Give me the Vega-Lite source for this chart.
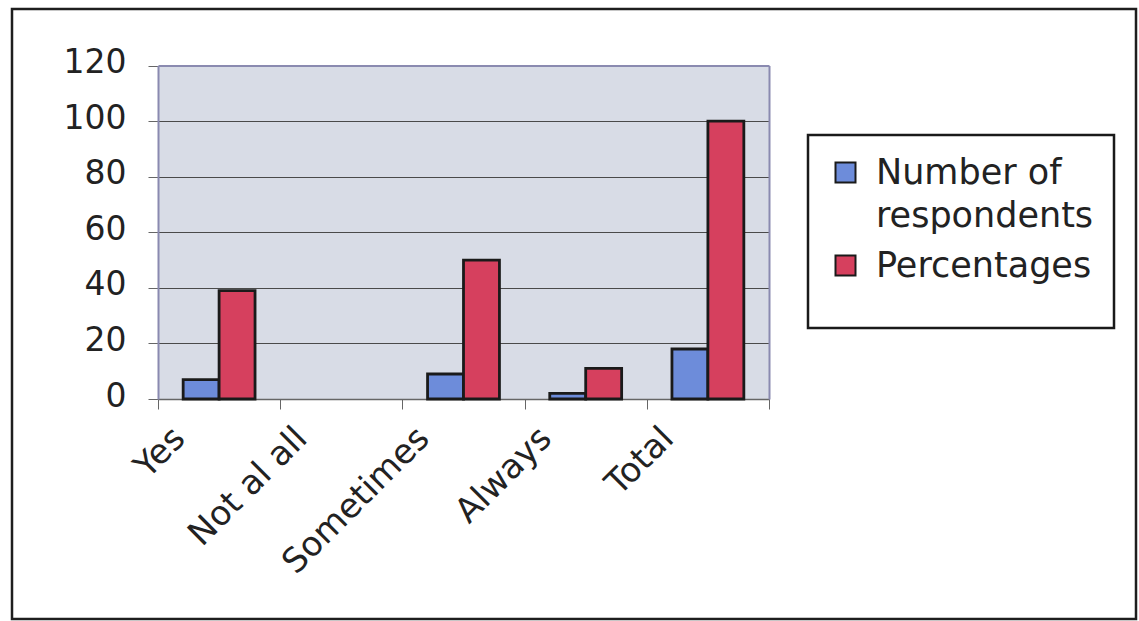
{
  "$schema": "https://vega.github.io/schema/vega-lite/v6.json",
  "width": 1124,
  "height": 610,
  "autosize": {"type": "none"},
  "padding": {"left": 12, "top": 9, "right": 3, "bottom": 2},
  "background": "white",
  "datasets": {
    "answers": [
      {"answer": "Yes", "series": "Number of respondents", "value": 7},
      {"answer": "Yes", "series": "Percentages", "value": 39},
      {"answer": "Not al all", "series": "Number of respondents", "value": 0},
      {"answer": "Not al all", "series": "Percentages", "value": 0},
      {"answer": "Sometimes", "series": "Number of respondents", "value": 9},
      {"answer": "Sometimes", "series": "Percentages", "value": 50},
      {"answer": "Always", "series": "Number of respondents", "value": 2},
      {"answer": "Always", "series": "Percentages", "value": 11},
      {"answer": "Total", "series": "Number of respondents", "value": 18},
      {"answer": "Total", "series": "Percentages", "value": 100}
    ]
  },
  "data": {"name": "answers"},
  "config": {
    "font": "DejaVu Sans",
    "view": {"stroke": "#1e1e1e", "strokeWidth": 2.5, "fill": "white"},
    "axis": {"title": null},
    "legend": {"strokeWidth": 2.5}
  },
  "resolve": {"axis": {"x": "independent", "y": "independent"}},
  "layer": [
    {
      "mark": {"type": "bar", "stroke": "#1a1a1a", "strokeWidth": 2.8},
      "encoding": {
        "x": {
          "field": "answer",
          "type": "nominal",
          "sort": ["Yes", "Not al all", "Sometimes", "Always", "Total"],
          "scale": {"range": [146, 757], "paddingInner": 0, "paddingOuter": 0},
          "axis": {
            "orient": "bottom",
            "offset": -220,
            "tickBand": "extent",
            "grid": false,
            "domainColor": "#666",
            "domainWidth": 1.5,
            "tickColor": "#666",
            "tickSize": 10,
            "labelAngle": -45,
            "labelAlign": "right",
            "labelBaseline": "top",
            "labelOffset": -52,
            "labelPadding": 12,
            "labelFontSize": 34,
            "labelLimit": 400,
            "labelColor": "#222"
          }
        },
        "xOffset": {
          "field": "series",
          "type": "nominal",
          "sort": ["Number of respondents", "Percentages"],
          "scale": {"paddingInner": 0, "paddingOuter": 0.7}
        },
        "y": {
          "field": "value",
          "type": "quantitative",
          "scale": {"domain": [0, 120], "range": [390, 56.5], "nice": false},
          "axis": {
            "orient": "left",
            "offset": -146,
            "values": [0, 20, 40, 60, 80, 100, 120],
            "grid": true,
            "gridColor": "#4a4a4a",
            "gridWidth": 1,
            "domainColor": "#8a8ab0",
            "domainWidth": 2,
            "tickSize": 10,
            "tickColor": "#666",
            "labelPadding": 22,
            "labelFontSize": 33,
            "labelColor": "#222",
            "labelOffset": -3
          }
        },
        "strokeOpacity": {"condition": {"test": "datum.value == 0", "value": 0}, "value": 1},
        "color": {
          "field": "series",
          "type": "nominal",
          "sort": ["Number of respondents", "Percentages"],
          "scale": {"domain": ["Number of respondents", "Percentages"], "range": ["#6d8cda", "#d6405e"]},
          "legend": {
            "orient": "none",
            "legendX": 796,
            "legendY": 126,
            "title": "\u00a0",
            "titleOrient": "bottom",
            "titleFontSize": 24,
            "titlePadding": 0,
            "labelFontSize": 35,
            "labelColor": "#222",
            "labelLimit": 400,
            "labelOffset": 13,
            "labelExpr": "datum.label == 'Number of respondents' ? ['Number of', 'respondents'] : datum.label",
            "symbolType": "square",
            "symbolSize": 400,
            "symbolStrokeColor": "#1a1a1a",
            "symbolStrokeWidth": 2,
            "symbolOpacity": 1,
            "strokeColor": "#1a1a1a",
            "fillColor": "white",
            "padding": 20,
            "rowPadding": 14,
            "encode": {
              "labels": {"update": {"lineHeight": {"value": 43}}}
            }
          }
        }
      }
    },
    {
      "mark": {"type": "bar", "opacity": 0},
      "encoding": {
        "x": {
          "field": "answer",
          "type": "nominal",
          "sort": ["Yes", "Not al all", "Sometimes", "Always", "Total"],
          "axis": {
            "orient": "top",
            "offset": -56.5,
            "grid": true,
            "gridWidth": 123,
            "gridColor": "#d8dce6",
            "gridCap": "butt",
            "ticks": false,
            "labels": false,
            "domainColor": "#8a8ab0",
            "domainWidth": 2
          }
        },
        "y": {
          "field": "value",
          "type": "quantitative",
          "axis": {
            "orient": "right",
            "offset": -367,
            "grid": false,
            "ticks": false,
            "labels": false,
            "domainColor": "#8a8ab0",
            "domainWidth": 2
          }
        }
      }
    }
  ]
}
